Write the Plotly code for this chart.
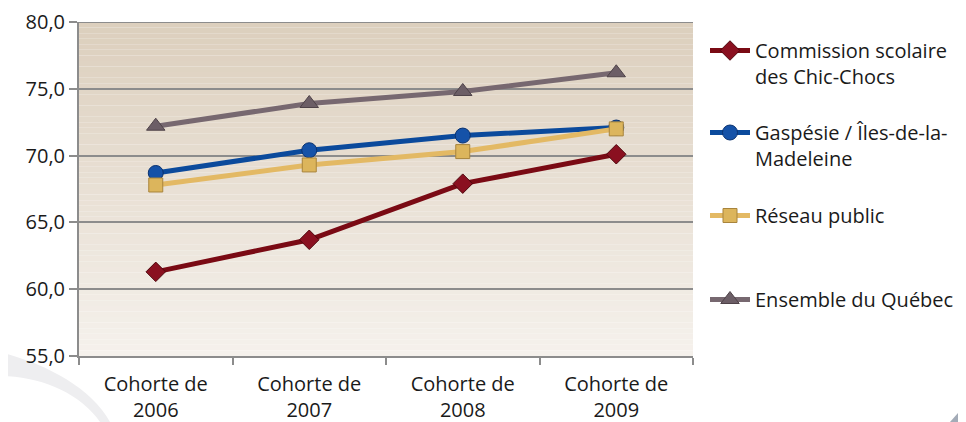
import plotly.graph_objects as go

# -------------------- Data --------------------

cohortes = ["Cohorte de<br>2006", "Cohorte de<br>2007", "Cohorte de<br>2008", "Cohorte de<br>2009"]

chic_chocs = [61.3, 63.7, 67.9, 70.1]
gaspesie = [68.7, 70.4, 71.5, 72.1]
reseau_public = [67.8, 69.3, 70.3, 72.0]
ensemble_quebec = [72.2, 73.9, 74.8, 76.2]

noms = [
    "Commission scolaire<br>des Chic-Chocs",
    "Gaspésie / Îles-de-la-<br>Madeleine",
    "Réseau public",
    "Ensemble du Québec",
]

y_ticks = [55, 60, 65, 70, 75, 80]

# -------------------- Layout helpers --------------------

# page is 966x422 but the browser body has an 8px margin
OFF = 8
W, H = 966 - OFF, 422 - OFF
PL, PR, PT, PB = 79, 693, 22, 356  # plot area in page pixels


def px_x(x):
    return (x - PL) / (PR - PL)


def px_y(y):
    return (PB - y) / (PB - PT)


FONT = "Open Sans"
FS = 20
GRID = "#8c8c8c"

fig = go.Figure()

styles = [
    dict(line="#7a0a14", marker="#8a1020", border="#4e060c", symbol="diamond", size=15),
    dict(line="#0b4a9c", marker="#1552a8", border="#0a3270", symbol="circle", size=15),
    dict(line="#e3b964", marker="#dcb55c", border="#a8843c", symbol="square", size=14),
    dict(line="#776870", marker="#6c5e66", border="#4e4248", symbol="triangle-up", size=16),
]
series = [chic_chocs, gaspesie, reseau_public, ensemble_quebec]
legend_tops = [23, 105, 188, 272]  # figure pixels

for i, (nom, vals, st) in enumerate(zip(noms, series, styles)):
    lg = "legend" if i == 0 else f"legend{i + 1}"
    fig.add_trace(go.Scatter(
        x=cohortes, y=vals, name=nom, mode="lines+markers",
        line=dict(color=st["line"], width=5),
        marker=dict(symbol=st["symbol"], size=st["size"], color=st["marker"],
                    line=dict(color=st["border"], width=1)),
        legend=lg,
    ))

# ---------- gradient background in the plot area ----------
shapes = []
top_c = (220, 207, 189)
bot_c = (245, 241, 236)
n = 60
for k in range(n):
    t = k / (n - 1)
    c = tuple(int(round(top_c[j] + (bot_c[j] - top_c[j]) * t)) for j in range(3))
    shapes.append(dict(
        type="rect", xref="paper", yref="paper", layer="below",
        x0=0, x1=1, y0=1 - (k + 1) / n, y1=1 - k / n,
        fillcolor=f"rgb{c}", line=dict(width=0),
    ))

# ---------- page decorations (bottom corners) ----------
shapes.append(dict(
    type="path", xref="paper", yref="paper", layer="below",
    path=(f"M {px_x(0)},{px_y(352)} C {px_x(40)},{px_y(362)} {px_x(90)},{px_y(385)} "
          f"{px_x(110)},{px_y(422)} L {px_x(0)},{px_y(422)} Z"),
    fillcolor="#eeeef0", line=dict(width=0),
))
shapes.append(dict(
    type="path", xref="paper", yref="paper", layer="below",
    path=(f"M {px_x(0)},{px_y(376)} C {px_x(40)},{px_y(376)} {px_x(80)},{px_y(393)} "
          f"{px_x(100)},{px_y(422)} L {px_x(0)},{px_y(422)} Z"),
    fillcolor="#ffffff", line=dict(width=0),
))
shapes.append(dict(
    type="path", xref="paper", yref="paper", layer="below",
    path=(f"M {px_x(966)},{px_y(404)} L {px_x(966)},{px_y(422)} "
          f"L {px_x(950)},{px_y(422)} Z"),
    fillcolor="#a3abb7", line=dict(width=0),
))
# top gridline at 80
shapes.append(dict(
    type="line", xref="paper", yref="y", x0=0, x1=1, y0=80, y1=80,
    line=dict(color=GRID, width=2), layer="below",
))

legend_common = dict(
    font=dict(family=FONT, size=FS, color="#1a1a1a"),
    bgcolor="rgba(0,0,0,0)", xanchor="left", yanchor="top",
    xref="container", yref="container",
    valign="top", itemwidth=40, tracegroupgap=0,
)
layout_legends = {}
for i, top in enumerate(legend_tops):
    key = "legend" if i == 0 else f"legend{i + 1}"
    layout_legends[key] = dict(legend_common, x=697 / W, y=1 - top / H)

fig.update_layout(
    width=W, height=H,
    margin=dict(l=PL - OFF, r=W - (PR - OFF), t=PT - OFF, b=H - (PB - OFF),
                pad=0, autoexpand=False),
    paper_bgcolor="#ffffff",
    plot_bgcolor="rgba(0,0,0,0)",
    separators=", ",
    font=dict(family=FONT, size=FS, color="#1a1a1a"),
    showlegend=True,
    shapes=shapes,
    **layout_legends,
)

fig.update_xaxes(
    type="category", showgrid=False, showline=True, linecolor=GRID, linewidth=2,
    ticks="outside", tickson="boundaries", ticklen=7, tickcolor=GRID, tickwidth=2,
    tickfont=dict(family=FONT, size=FS, color="#1a1a1a"), ticklabelstandoff=9,
    range=[-0.5, 3.5], fixedrange=True, automargin=False,
)
fig.update_yaxes(
    range=[55, 80], tickvals=y_ticks, tickformat=".1f",
    showgrid=True, gridcolor=GRID, gridwidth=2,
    showline=True, linecolor=GRID, linewidth=2,
    ticks="outside", ticklen=8, tickcolor=GRID, tickwidth=2,
    tickfont=dict(family=FONT, size=FS, color="#1a1a1a"),
    zeroline=False, fixedrange=True, automargin=False,
)

fig.write_html("out.html")
